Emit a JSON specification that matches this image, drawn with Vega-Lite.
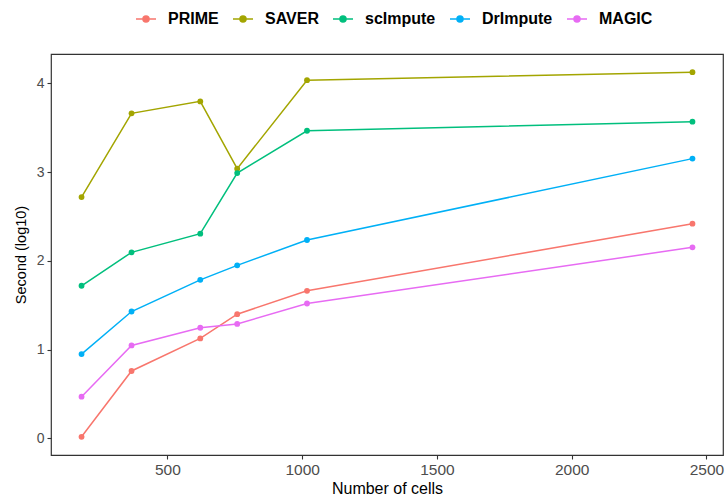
{
  "$schema": "https://vega.github.io/schema/vega-lite/v6.json",
  "width": 672,
  "height": 401,
  "autosize": {"type": "none"},
  "padding": {"left": 51, "top": 54, "right": 2, "bottom": 42},
  "background": "white",
  "config": {
    "font": "Liberation Sans",
    "view": {"stroke": "#333333", "strokeWidth": 1.2},
    "axis": {
      "grid": false,
      "domain": false,
      "tickColor": "#333333",
      "tickSize": 4,
      "tickWidth": 1.1,
      "labelColor": "#4D4D4D",
      "labelFont": "Liberation Sans",
      "titleFont": "Liberation Sans",
      "titleFontWeight": "normal",
      "titleColor": "black",
      "labelPadding": 3
    }
  },
  "data": {
    "values": [
      {"cells": 181.5, "sec": 0.018, "method": "PRIME"},
      {"cells": 367, "sec": 0.76, "method": "PRIME"},
      {"cells": 622, "sec": 1.127, "method": "PRIME"},
      {"cells": 759, "sec": 1.40, "method": "PRIME"},
      {"cells": 1018, "sec": 1.663, "method": "PRIME"},
      {"cells": 2448, "sec": 2.42, "method": "PRIME"},
      {"cells": 181.5, "sec": 2.72, "method": "SAVER"},
      {"cells": 367, "sec": 3.663, "method": "SAVER"},
      {"cells": 622, "sec": 3.798, "method": "SAVER"},
      {"cells": 759, "sec": 3.04, "method": "SAVER"},
      {"cells": 1018, "sec": 4.037, "method": "SAVER"},
      {"cells": 2448, "sec": 4.127, "method": "SAVER"},
      {"cells": 181.5, "sec": 1.72, "method": "scImpute"},
      {"cells": 367, "sec": 2.097, "method": "scImpute"},
      {"cells": 622, "sec": 2.307, "method": "scImpute"},
      {"cells": 759, "sec": 2.99, "method": "scImpute"},
      {"cells": 1018, "sec": 3.467, "method": "scImpute"},
      {"cells": 2448, "sec": 3.569, "method": "scImpute"},
      {"cells": 181.5, "sec": 0.95, "method": "DrImpute"},
      {"cells": 367, "sec": 1.43, "method": "DrImpute"},
      {"cells": 622, "sec": 1.787, "method": "DrImpute"},
      {"cells": 759, "sec": 1.95, "method": "DrImpute"},
      {"cells": 1018, "sec": 2.236, "method": "DrImpute"},
      {"cells": 2448, "sec": 3.153, "method": "DrImpute"},
      {"cells": 181.5, "sec": 0.47, "method": "MAGIC"},
      {"cells": 367, "sec": 1.048, "method": "MAGIC"},
      {"cells": 622, "sec": 1.247, "method": "MAGIC"},
      {"cells": 759, "sec": 1.29, "method": "MAGIC"},
      {"cells": 1018, "sec": 1.52, "method": "MAGIC"},
      {"cells": 2448, "sec": 2.153, "method": "MAGIC"}
    ]
  },
  "encoding": {
    "x": {
      "field": "cells", "type": "quantitative",
      "scale": {"domain": [68.2, 2561.3], "nice": false, "zero": false},
      "axis": {"values": [500, 1000, 1500, 2000, 2500], "format": "d", "title": "Number of cells", "titlePadding": 3, "labelFontSize": 15.5, "titleFontSize": 16}
    },
    "y": {
      "field": "sec", "type": "quantitative",
      "scale": {"domain": [-0.187, 4.332], "nice": false, "zero": false},
      "axis": {"values": [0, 1, 2, 3, 4], "format": "d", "title": "Second (log10)", "titlePadding": 8, "labelFontSize": 14, "titleFontSize": 14.5}
    },
    "color": {
      "field": "method", "type": "nominal",
      "scale": {
        "domain": ["PRIME", "SAVER", "scImpute", "DrImpute", "MAGIC"],
        "range": ["#F8766D", "#A3A500", "#00BF7D", "#00B0F6", "#E76BF3"]
      },
      "legend": {
        "title": null,
        "orient": "none",
        "direction": "horizontal",
        "legendX": 84,
        "legendY": -46,
        "columns": 5,
        "columnPadding": 11,
        "labelFontSize": 16,
        "labelFontWeight": "bold",
        "labelColor": "black",
        "labelFont": "Liberation Sans",
        "labelOffset": 11,
        "symbolType": "M-1,0H1M0.3,0A0.3,0.3,0,1,1,-0.3,0A0.3,0.3,0,1,1,0.3,0Z",
        "symbolSize": 400,
        "symbolStrokeWidth": 1.5,
        "encode": {
          "symbols": {"update": {"fill": {"scale": "color", "field": "value"}, "stroke": {"scale": "color", "field": "value"}}}
        }
      }
    }
  },
  "layer": [
    {"mark": {"type": "line", "strokeWidth": 1.5}},
    {"mark": {"type": "point", "filled": true, "size": 34, "opacity": 1}}
  ]
}
